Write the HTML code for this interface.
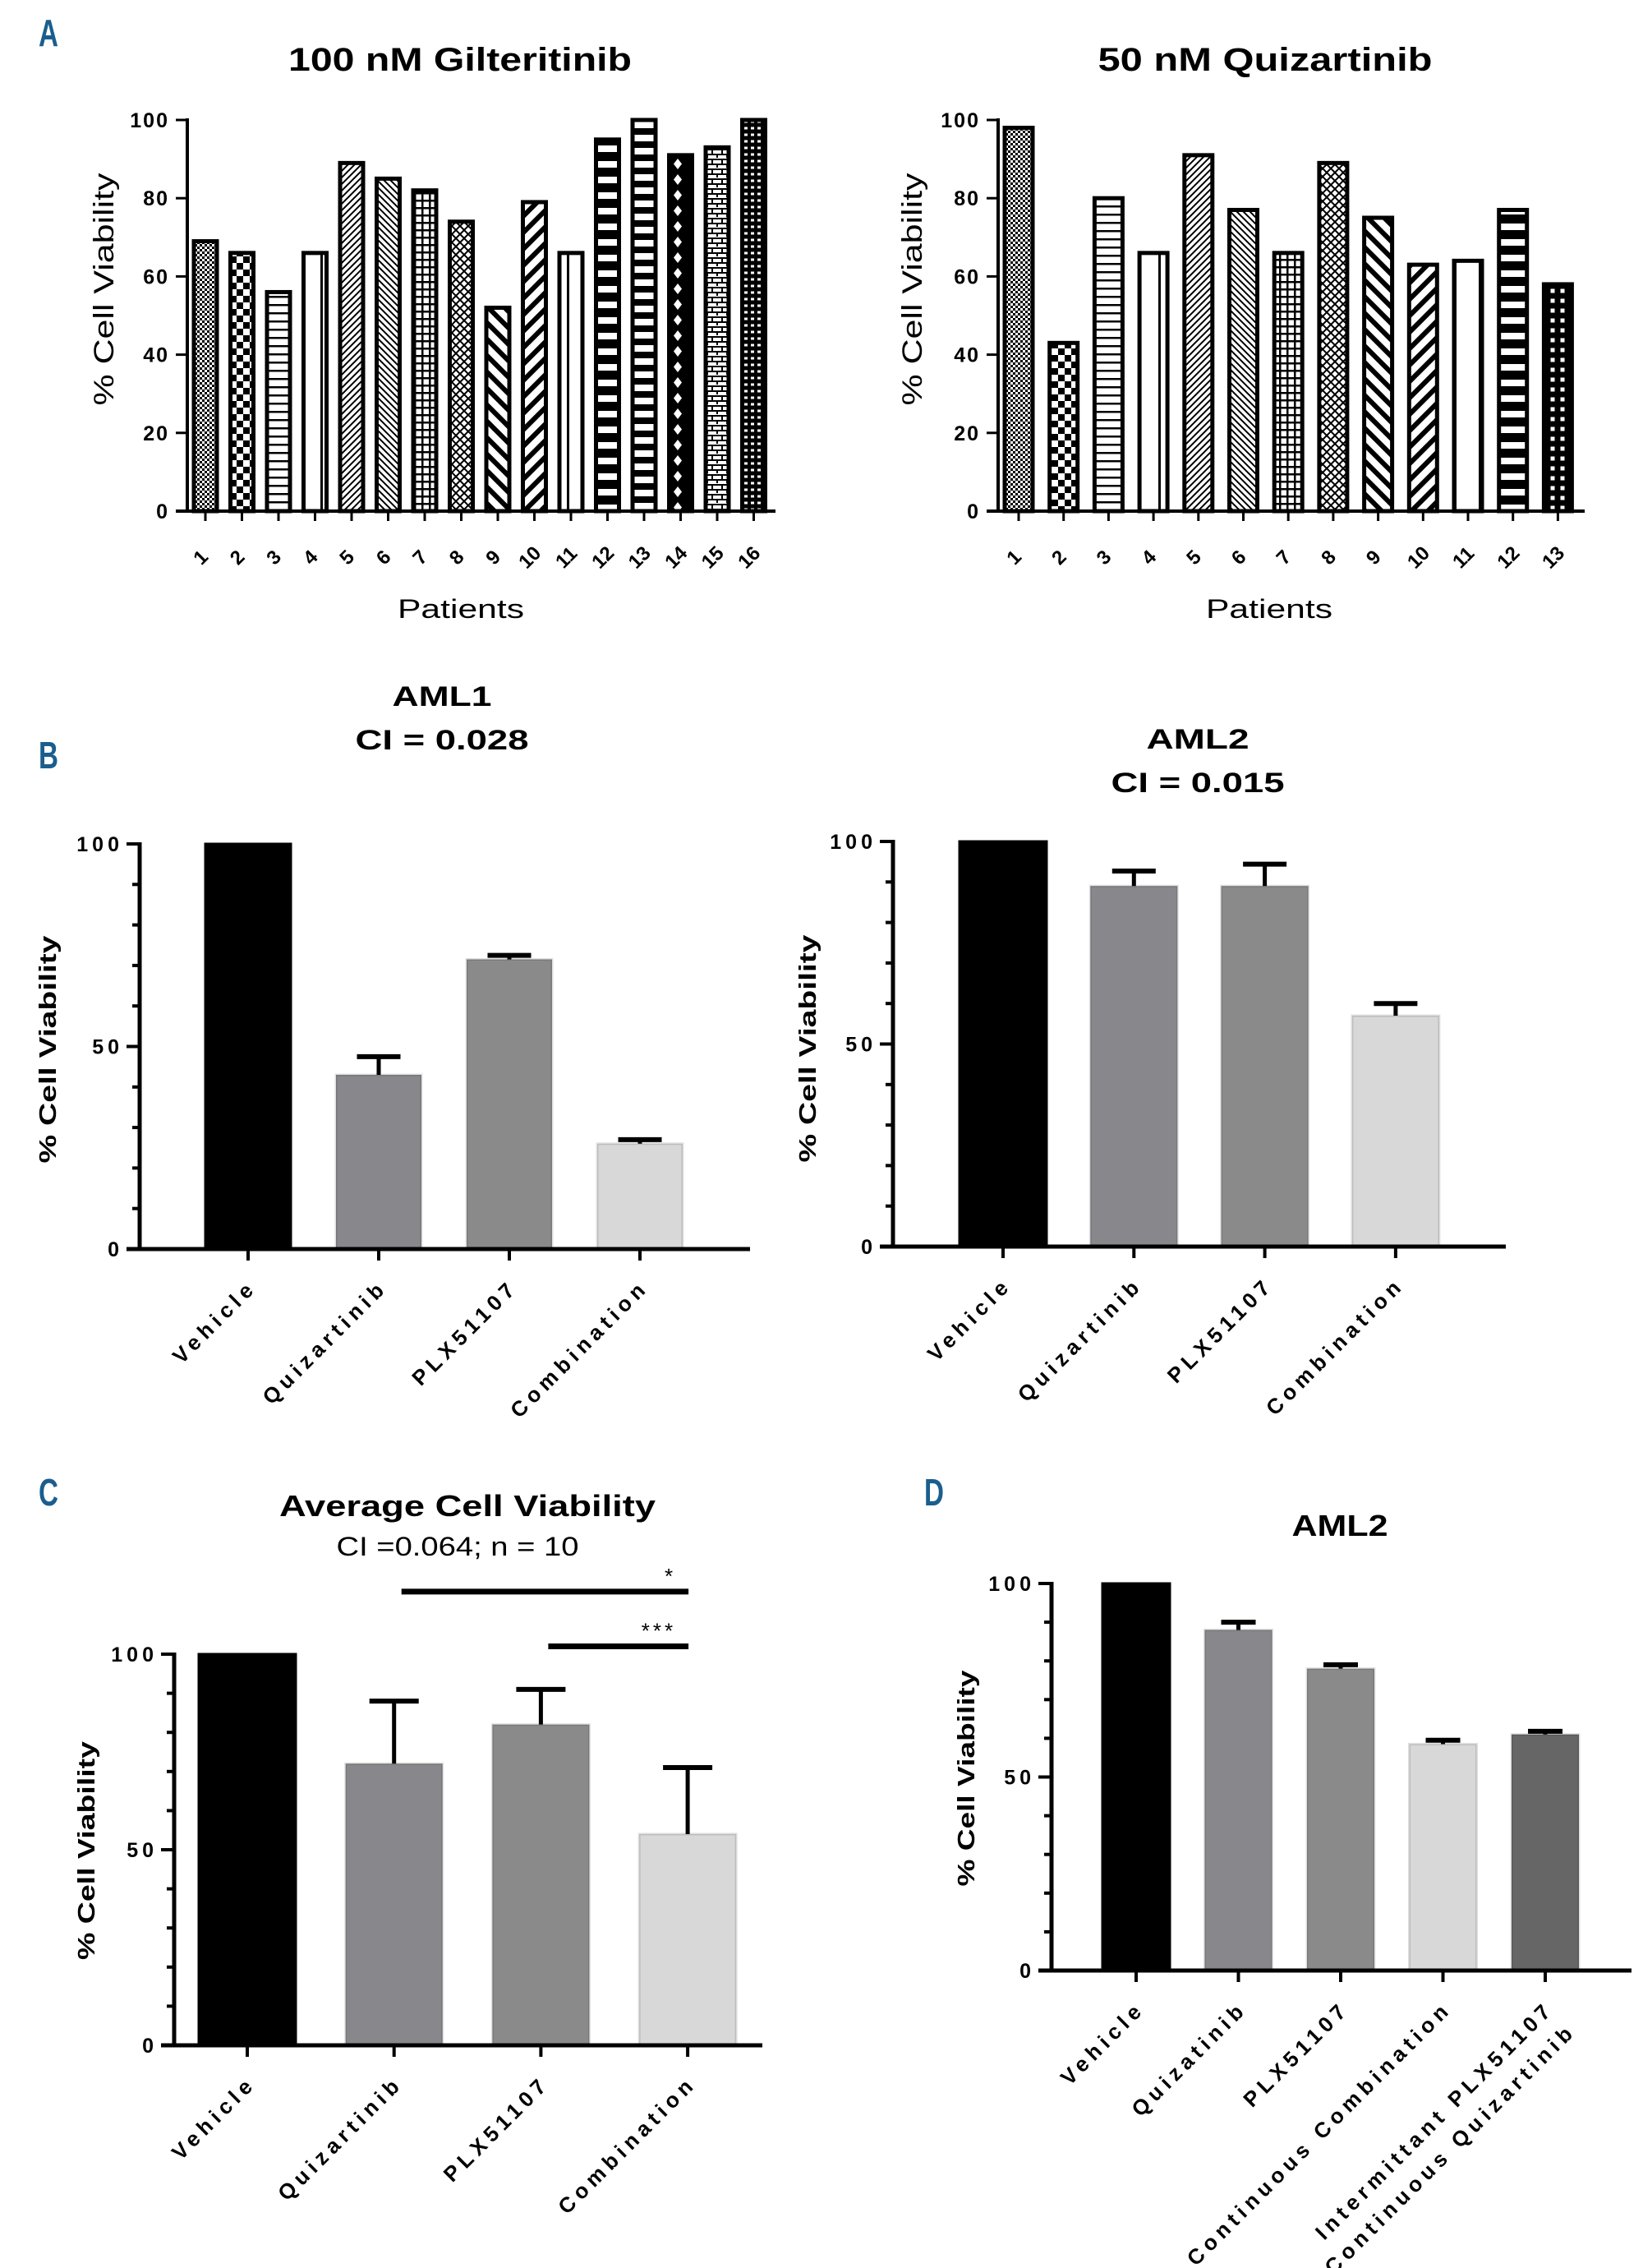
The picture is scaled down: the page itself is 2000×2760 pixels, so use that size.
<!DOCTYPE html>
<html>
<head>
<meta charset="utf-8">
<style>
  html,body{margin:0;padding:0;background:#fff;}
  svg{display:block;}
  text{font-family:"Liberation Sans",Arial,sans-serif;fill:#000;}
  .b{font-weight:bold;}
  .panel{font-family:"Liberation Sans Narrow","Liberation Sans",sans-serif;font-weight:bold;fill:#1b5e8e;}
</style>
</head>
<body>
<svg id="fig" width="2000" height="2760" viewBox="0 0 2000 2760" xmlns="http://www.w3.org/2000/svg">
  <defs>
    <pattern id="pFineCheck" width="6" height="6" patternUnits="userSpaceOnUse"><rect width="6" height="6" fill="#fff"/><rect width="3" height="3" fill="#000"/><rect x="3" y="3" width="3" height="3" fill="#000"/></pattern>
    <pattern id="pCoarseCheck" width="16" height="16" patternUnits="userSpaceOnUse"><rect width="16" height="16" fill="#fff"/><rect width="8" height="8" fill="#000"/><rect x="8" y="8" width="8" height="8" fill="#000"/></pattern>
    <pattern id="pHoriz" width="12" height="10" patternUnits="userSpaceOnUse"><rect width="12" height="10" fill="#fff"/><rect y="0" width="12" height="2.5" fill="#000"/></pattern>
    <pattern id="pVert" width="30" height="10" patternUnits="userSpaceOnUse"><rect width="30" height="10" fill="#fff"/><rect x="0" width="3" height="10" fill="#000"/></pattern>
    <pattern id="pDiagF" width="8" height="8" patternUnits="userSpaceOnUse"><rect width="8" height="8" fill="#fff"/><path d="M-2,10 L10,-2 M-2,2 L2,-2 M6,10 L10,6" stroke="#000" stroke-width="2"/></pattern>
    <pattern id="pDiagB" width="8" height="8" patternUnits="userSpaceOnUse"><rect width="8" height="8" fill="#fff"/><path d="M-2,-2 L10,10 M-2,6 L2,10 M6,-2 L10,2" stroke="#000" stroke-width="2"/></pattern>
    <pattern id="pGrid" width="9" height="9" patternUnits="userSpaceOnUse"><rect width="9" height="9" fill="#fff"/><rect width="9" height="2.5" fill="#000"/><rect width="2.5" height="9" fill="#000"/></pattern>
    <pattern id="pWeave" width="10" height="10" patternUnits="userSpaceOnUse"><rect width="10" height="10" fill="#fff"/><path d="M0,5 L5,0 L10,5 L5,10 Z" fill="none" stroke="#000" stroke-width="2"/></pattern>
    <pattern id="pThickB" width="20" height="20" patternUnits="userSpaceOnUse"><rect width="20" height="20" fill="#fff"/><path d="M-4,-4 L24,24 M-4,16 L4,24 M16,-4 L24,4" stroke="#000" stroke-width="6"/></pattern>
    <pattern id="pThickF" width="20" height="20" patternUnits="userSpaceOnUse"><rect width="20" height="20" fill="#fff"/><path d="M-4,24 L24,-4 M-4,4 L4,-4 M16,24 L24,16" stroke="#000" stroke-width="6"/></pattern>
    <pattern id="pBoxes" width="40" height="19" patternUnits="userSpaceOnUse"><rect width="40" height="19" fill="#000"/><rect x="0" y="6" width="40" height="8" fill="#fff"/></pattern>
    <pattern id="pWhiteSq" width="40" height="16" patternUnits="userSpaceOnUse"><rect width="40" height="16" fill="#000"/><rect x="0" y="4" width="40" height="8" fill="#fff"/></pattern>
    <pattern id="pDiamond" width="30" height="19" patternUnits="userSpaceOnUse"><rect width="30" height="19" fill="#000"/><path d="M15,3 L20,9.5 L15,16 L10,9.5 Z" fill="#fff"/></pattern>
    <pattern id="pBrick" width="12" height="12" patternUnits="userSpaceOnUse"><rect width="12" height="12" fill="#fff"/><path d="M0,2 H12 M0,8 H12 M3,2 V8 M9,8 V12" stroke="#000" stroke-width="2"/></pattern>
    <pattern id="pSmallGrid" width="8" height="8" patternUnits="userSpaceOnUse"><rect width="8" height="8" fill="#000"/><rect x="2" y="2.5" width="4" height="3" fill="#fff"/></pattern>
    <pattern id="pGridThick" width="12" height="12" patternUnits="userSpaceOnUse"><rect width="12" height="12" fill="#000"/><rect x="3.5" y="3.5" width="5" height="5" fill="#fff"/></pattern>
  </defs>
  <g id="root"></g>
</svg>
<script>
// ---------- DATA ----------
const A1_categories = ['1','2','3','4','5','6','7','8','9','10','11','12','13','14','15','16'];
const A1_values = [69, 66, 56, 66, 89, 85, 82, 74, 52, 79, 66, 95, 100, 91, 93, 100];
const A2_categories = ['1','2','3','4','5','6','7','8','9','10','11','12','13'];
const A2_values = [98, 43, 80, 66, 91, 77, 66, 89, 75, 63, 64, 77, 58];
const A_ticks = [0, 20, 40, 60, 80, 100];

const B_categories = ['Vehicle','Quizartinib','PLX51107','Combination'];
const B1_values = [100, 43, 71.5, 26];
const B1_errors = [0, 4.5, 1, 1];
const B2_values = [100, 89, 89, 57];
const B2_errors = [0, 3.7, 5.4, 3];
const C_values = [100, 72, 82, 54];
const C_errors = [0, 16, 9, 17];
const C_sig_from = [1, 2];
const C_sig_to = [3, 3];
const C_sig_level = [116, 102];
const C_sig_label = ['*', '***'];
const D_categories = ['Vehicle','Quizatinib','PLX51107','Continuous Combination','Intermittant PLX51107|Continuous Quizartinib'];
const D_values = [100, 88, 78, 58.5, 61];
const D_errors = [0, 2, 1, 1, 0.8];
const BCD_ticks = [0, 50, 100];
const BCD_minor = [10, 20, 30, 40, 60, 70, 80, 90];

// ---------- STYLES (not data) ----------
const A1_patterns = ['pFineCheck','pCoarseCheck','pHoriz','pVert','pDiagF','pDiagB','pGrid','pWeave','pThickB','pThickF','pVert','pBoxes','pWhiteSq','pDiamond','pBrick','pSmallGrid'];
const A2_patterns = ['pFineCheck','pCoarseCheck','pHoriz','pVert','pDiagF','pDiagB','pGrid','pWeave','pThickB','pThickF','pVert','pBoxes','pGridThick'];
const grey4 = ['#000000','#88878c','#8a8a8a','#d8d8d8'];
const grey5 = ['#000000','#88878c','#8a8a8a','#d8d8d8','#666666'];

const NS = 'http://www.w3.org/2000/svg';
const root = document.getElementById('root');
function mk(tag, attrs, parent) {
  const e = document.createElementNS(NS, tag);
  for (const k in attrs) e.setAttribute(k, attrs[k]);
  (parent || root).appendChild(e);
  return e;
}
function txt(str, attrs, parent) {
  const e = mk('text', attrs, parent);
  e.textContent = str;
  return e;
}

function makeScale(y0, y100) { return v => y0 - v / 100 * (y0 - y100); }

// ---------- Panel letters ----------
function panelLetter(ch, x, y) {
  const t = txt(ch, {x: x, y: y, 'font-size': 46, class: 'panel', textLength: 24, lengthAdjust: 'spacingAndGlyphs'});
  
  
}
panelLetter('A', 47, 56);
panelLetter('B', 47, 935);
panelLetter('C', 47, 1832);
panelLetter('D', 1125, 1832);

// ---------- A charts (patterned) ----------
function drawA(id, cats, vals, pats, cfg) {
  const g = mk('g', {});
  
  
  const y = makeScale(cfg.y0, cfg.y100);
  const x = i => cfg.first + i * cfg.step;
  const t = txt(cfg.title, {x: cfg.titleX, y: 86, 'font-size': 40, class: 'b', 'text-anchor': 'middle', textLength: cfg.titleW, lengthAdjust: 'spacingAndGlyphs'}, g);
  
  
  const yl = txt('% Cell Viability', {x: 0, y: 0, 'font-size': 34, 'text-anchor': 'middle', textLength: 283, lengthAdjust: 'spacingAndGlyphs', transform: 'translate(' + cfg.ylabX + ',352) rotate(-90)'}, g);
  
  
  const xl = txt('Patients', {x: cfg.xlabX, y: 752, 'font-size': 32, 'text-anchor': 'middle', textLength: 154, lengthAdjust: 'spacingAndGlyphs'}, g);
  
  
  vals.forEach((v, i) => {
    const r = mk('rect', {x: x(i) - cfg.bw / 2, y: y(v), width: cfg.bw, height: y(0) - y(v), fill: 'url(#' + pats[i] + ')', stroke: '#000', 'stroke-width': 5}, g);
    
    
  });
  const ya = mk('line', {x1: cfg.axisX, y1: cfg.y100 - 2, x2: cfg.axisX, y2: cfg.y0 + 2, stroke: '#000', 'stroke-width': 4}, g);
  
  
  const xa = mk('line', {x1: cfg.axisX - 14, y1: cfg.y0, x2: cfg.xEnd, y2: cfg.y0, stroke: '#000', 'stroke-width': 4}, g);
  
  
  A_ticks.forEach(tv => {
    mk('line', {x1: cfg.axisX - 14, y1: y(tv), x2: cfg.axisX, y2: y(tv), stroke: '#000', 'stroke-width': 3}, g);
    const tl = txt(String(tv), {x: cfg.axisX - 22, y: y(tv) + 9, 'font-size': 25, class: 'b', 'text-anchor': 'end', style: 'letter-spacing:2px'}, g);
    
    
  });
  cats.forEach((c, i) => {
    mk('line', {x1: x(i), y1: cfg.y0, x2: x(i), y2: cfg.y0 + 12, stroke: '#000', 'stroke-width': 3}, g);
    const tl = txt(c, {x: 0, y: 0, 'font-size': 24, class: 'b', 'text-anchor': 'middle', transform: 'translate(' + x(i) + ',' + (cfg.y0 + 62) + ') rotate(-45)'}, g);
    
    
  });
}
drawA('chart-a-gilteritinib', A1_categories, A1_values, A1_patterns,
  {title: '100 nM Gilteritinib', titleX: 560, titleW: 418, ylabX: 138, xlabX: 561, axisX: 228, y0: 622, y100: 146, xEnd: 944, first: 250, step: 44.5, bw: 28});
drawA('chart-a-quizartinib', A2_categories, A2_values, A2_patterns,
  {title: '50 nM Quizartinib', titleX: 1540, titleW: 407, ylabX: 1122, xlabX: 1545, axisX: 1215, y0: 622, y100: 146, xEnd: 1929, first: 1240, step: 54.7, bw: 34});

// ---------- Grey bar charts ----------
function drawG(id, cats, vals, errs, colors, cfg) {
  const g = mk('g', {});
  
  
  const y = makeScale(cfg.y0, cfg.y100);
  const x = i => cfg.first + i * cfg.step;
  cfg.titles.forEach(tt => {
    const t = txt(tt.s, {x: tt.x, y: tt.y, 'font-size': tt.fs, class: tt.bold ? 'b' : '', 'text-anchor': 'middle', textLength: tt.w, lengthAdjust: 'spacingAndGlyphs'}, g);
    
    
  });
  const yl = txt('% Cell Viability', {x: 0, y: 0, 'font-size': 29, class: 'b', 'text-anchor': 'middle', textLength: cfg.ylabW, lengthAdjust: 'spacingAndGlyphs', transform: 'translate(' + cfg.ylabX + ',' + cfg.ylabY + ') rotate(-90)'}, g);
  
  
  vals.forEach((v, i) => {
    const r = mk('rect', {x: x(i) - cfg.bw / 2, y: y(v), width: cfg.bw, height: y(0) - y(v), fill: colors[i], stroke: i === 0 ? '#000' : 'rgba(0,0,0,0.12)', 'stroke-width': 3}, g);
    
    
    if (errs[i] > 0) {
      const e1 = mk('line', {x1: x(i), y1: y(v), x2: x(i), y2: y(v + errs[i]), stroke: '#000', 'stroke-width': 5}, g);
      
      
      const e2 = mk('line', {x1: x(i) - cfg.cap / 2, y1: y(v + errs[i]), x2: x(i) + cfg.cap / 2, y2: y(v + errs[i]), stroke: '#000', 'stroke-width': 6}, g);
      
      
    }
  });
  const ya = mk('line', {x1: cfg.axisX, y1: cfg.y100 - 2, x2: cfg.axisX, y2: cfg.y0 + 2.5, stroke: '#000', 'stroke-width': 5}, g);
  
  
  const xa = mk('line', {x1: cfg.axisX - 16, y1: cfg.y0, x2: cfg.xEnd, y2: cfg.y0, stroke: '#000', 'stroke-width': 5}, g);
  
  
  BCD_ticks.forEach(tv => {
    mk('line', {x1: cfg.axisX - 16, y1: y(tv), x2: cfg.axisX, y2: y(tv), stroke: '#000', 'stroke-width': 4}, g);
    const tl = txt(String(tv), {x: cfg.axisX - 20, y: y(tv) + 9, 'font-size': 25, class: 'b', 'text-anchor': 'end', style: 'letter-spacing:5px'}, g);
    
    
  });
  BCD_minor.forEach(tv => {
    mk('line', {x1: cfg.axisX - 9, y1: y(tv), x2: cfg.axisX, y2: y(tv), stroke: '#000', 'stroke-width': 4}, g);
  });
  cats.forEach((c, i) => {
    mk('line', {x1: x(i), y1: cfg.y0, x2: x(i), y2: cfg.y0 + 14, stroke: '#000', 'stroke-width': 4}, g);
    const parts = c.split('|');
    const tl = mk('text', {x: 0, y: 0, 'font-size': 26, class: 'b', 'text-anchor': 'end', style: 'letter-spacing:6px', transform: 'translate(' + (x(i) + 12) + ',' + (cfg.y0 + 48) + ') rotate(-45)'}, g);
    
    
    parts.forEach((p, k) => {
      const ts = document.createElementNS(NS, 'tspan');
      ts.setAttribute('x', 0);
      ts.setAttribute('dy', k === 0 ? 0 : 38);
      ts.textContent = p;
      tl.appendChild(ts);
    });
  });
  return {g: g, x: x, y: y};
}

drawG('chart-b-aml1', B_categories, B1_values, B1_errors, grey4,
  {titles: [{s: 'AML1', x: 538, y: 859, fs: 34, bold: true, w: 121}, {s: 'CI = 0.028', x: 538, y: 912, fs: 34, bold: true, w: 211}],
   ylabX: 68, ylabY: 1277, ylabW: 277, axisX: 170, y0: 1520, y100: 1027, xEnd: 913, first: 302, step: 159, bw: 104, cap: 53});
drawG('chart-b-aml2', B_categories, B2_values, B2_errors, grey4,
  {titles: [{s: 'AML2', x: 1458, y: 911, fs: 34, bold: true, w: 125}, {s: 'CI = 0.015', x: 1458, y: 964, fs: 34, bold: true, w: 211}],
   ylabX: 993, ylabY: 1276, ylabW: 277, axisX: 1087, y0: 1517, y100: 1024, xEnd: 1833, first: 1221, step: 159.3, bw: 106, cap: 53});
const cc = drawG('chart-c-average', B_categories, C_values, C_errors, grey4,
  {titles: [{s: 'Average Cell Viability', x: 569, y: 1845, fs: 36, bold: true, w: 458}, {s: 'CI =0.064; n = 10', x: 557, y: 1893, fs: 32, bold: false, w: 295}],
   ylabX: 115, ylabY: 2252, ylabW: 266, axisX: 212, y0: 2489, y100: 2013, xEnd: 928, first: 301, step: 178.7, bw: 118, cap: 60});
C_sig_level.forEach((lv, k) => {
  const ln = mk('line', {x1: cc.x(C_sig_from[k]) + 9, y1: cc.y(lv), x2: cc.x(C_sig_to[k]) + 1, y2: cc.y(lv), stroke: '#000', 'stroke-width': 7}, cc.g);
  
  
  const st = txt(C_sig_label[k], {x: cc.x(C_sig_to[k]) - 14, y: cc.y(lv) - 10, 'font-size': 26, 'text-anchor': 'end', style: 'letter-spacing:4px'}, cc.g);
  
  
});
drawG('chart-d-aml2', D_categories, D_values, D_errors, grey5,
  {titles: [{s: 'AML2', x: 1631, y: 1869, fs: 36, bold: true, w: 117}],
   ylabX: 1186, ylabY: 2164, ylabW: 263, axisX: 1280, y0: 2398, y100: 1927, xEnd: 1986, first: 1383, step: 124.5, bw: 82, cap: 42});
</script>
</body>
</html>
